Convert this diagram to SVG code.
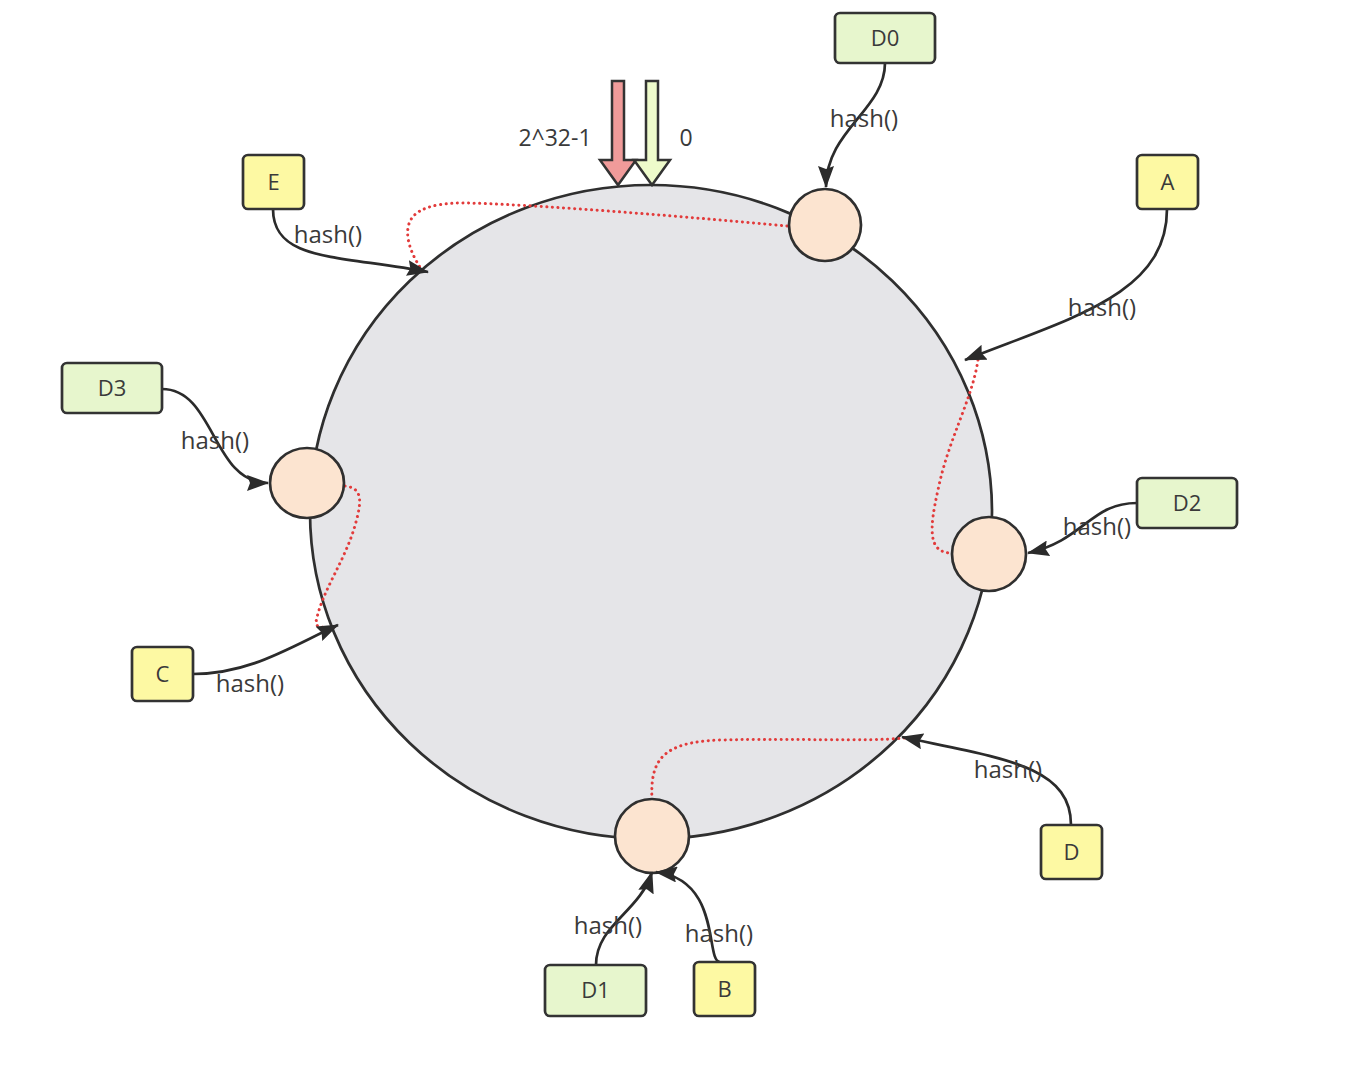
<svg xmlns="http://www.w3.org/2000/svg" width="1360" height="1072" viewBox="0 0 1360 1072">
<style>
.ring{fill:#e5e5e8;stroke:#2f2f2f;stroke-width:2.7}
.vn{fill:#fce4d0;stroke:#2f2f2f;stroke-width:2.7}
.g{fill:#e7f6cd;stroke:#333;stroke-width:2.7}
.y{fill:#fdf9a3;stroke:#333;stroke-width:2.7}
.t{font-family:"Open Sans","Liberation Sans",sans-serif;font-size:24px;fill:#3a3a3a;text-anchor:middle}
.n{font-size:22px}
.c{fill:none;stroke:#2b2b2b;stroke-width:2.7}
.d{fill:none;stroke:#e23b3b;stroke-width:3;stroke-dasharray:0.1 5.5;stroke-linecap:round}
</style>
<defs>
<marker id="a2" viewBox="0 0 22 16" refX="21" refY="8" markerWidth="22" markerHeight="16" markerUnits="userSpaceOnUse" orient="auto">
<path d="M0,0 L22,8 L0,16 L3,8 z" fill="#2b2b2b"/>
</marker>
</defs>
<g id="ring"><ellipse class="ring" cx="651" cy="512" rx="341" ry="327"/></g>
<g id="dotted">
<path class="d" d="M787 226 C700 218, 560 206, 470 203 C420 202, 405 215, 408 238 C410 252, 418 264, 423 272"/>
<path class="d" d="M978 360 C972 400, 948 440, 938 490 C929 530, 928 553, 952 553"/>
<path class="d" d="M345 486 C362 488, 362 500, 356 522 C346 560, 322 590, 316 622 C315 628, 325 628, 334 627"/>
<path class="d" d="M652 800 C650 760, 662 742, 720 740 C800 738, 860 742, 905 738"/>
</g>
<g id="vnode-top"><circle class="vn" cx="825" cy="225" r="36"/></g>
<g id="vnode-left"><ellipse class="vn" cx="307" cy="483" rx="37" ry="35"/></g>
<g id="vnode-right"><circle class="vn" cx="989" cy="554" r="37"/></g>
<g id="vnode-bottom"><circle class="vn" cx="652" cy="836" r="37"/></g>
<g id="markers-top">
<path d="M612 81 H624 V160 H636 L618 185 L600 160 H612 Z" fill="#f09b9a" stroke="#333" stroke-width="2.5"/>
<path d="M646 81 H658 V160 H670 L652 185 L634 160 H646 Z" fill="#eefbcb" stroke="#333" stroke-width="2.5"/>
<text class="t" x="555" y="146" style="font-size:23px">2^32-1</text>
<text class="t" x="686" y="146" style="font-size:23px">0</text>
</g>
<g id="connectors">
<path class="c" marker-end="url(#a2)" d="M885 63 C885 110, 826 130, 826 187"/>
<path class="c" marker-end="url(#a2)" d="M273 209 C273 262, 340 255, 428 272"/>
<path class="c" marker-end="url(#a2)" d="M1167 209 C1167 295, 1070 318, 965 360"/>
<path class="c" marker-end="url(#a2)" d="M162 389 C215 389, 212 483, 268 483"/>
<path class="c" marker-end="url(#a2)" d="M1137 503 C1090 503, 1085 540, 1028 553"/>
<path class="c" marker-end="url(#a2)" d="M193 674 C250 674, 290 647, 338 625"/>
<path class="c" marker-end="url(#a2)" d="M1071 825 C1071 765, 1000 758, 902 737"/>
<path class="c" marker-end="url(#a2)" d="M596 965 C596 925, 640 912, 652 872"/>
<path class="c" marker-end="url(#a2)" d="M720 962 C705 962, 722 880, 656 872"/>
<text class="t" x="864" y="127">hash()</text>
<text class="t" x="328" y="243">hash()</text>
<text class="t" x="1102" y="316">hash()</text>
<text class="t" x="215" y="449">hash()</text>
<text class="t" x="1097" y="535">hash()</text>
<text class="t" x="250" y="692">hash()</text>
<text class="t" x="1008" y="778">hash()</text>
<text class="t" x="608" y="934">hash()</text>
<text class="t" x="719" y="942">hash()</text>
</g>
<g id="D0"><rect class="g" x="835" y="13" width="100" height="50" rx="5"/><text class="t n" x="885" y="46">D0</text></g>
<g id="E"><rect class="y" x="243" y="155" width="61" height="54" rx="5"/><text class="t n" x="273.5" y="190">E</text></g>
<g id="A"><rect class="y" x="1137" y="155" width="61" height="54" rx="5"/><text class="t n" x="1167.5" y="190">A</text></g>
<g id="D3"><rect class="g" x="62" y="363" width="100" height="50" rx="5"/><text class="t n" x="112" y="396">D3</text></g>
<g id="D2"><rect class="g" x="1137" y="478" width="100" height="50" rx="5"/><text class="t n" x="1187" y="511">D2</text></g>
<g id="C"><rect class="y" x="132" y="647" width="61" height="54" rx="5"/><text class="t n" x="162.5" y="682">C</text></g>
<g id="D"><rect class="y" x="1041" y="825" width="61" height="54" rx="5"/><text class="t n" x="1071.5" y="860">D</text></g>
<g id="D1"><rect class="g" x="545" y="965" width="101" height="51" rx="5"/><text class="t n" x="595.5" y="998">D1</text></g>
<g id="B"><rect class="y" x="694" y="962" width="61" height="54" rx="5"/><text class="t n" x="724.5" y="997">B</text></g>
</svg>
